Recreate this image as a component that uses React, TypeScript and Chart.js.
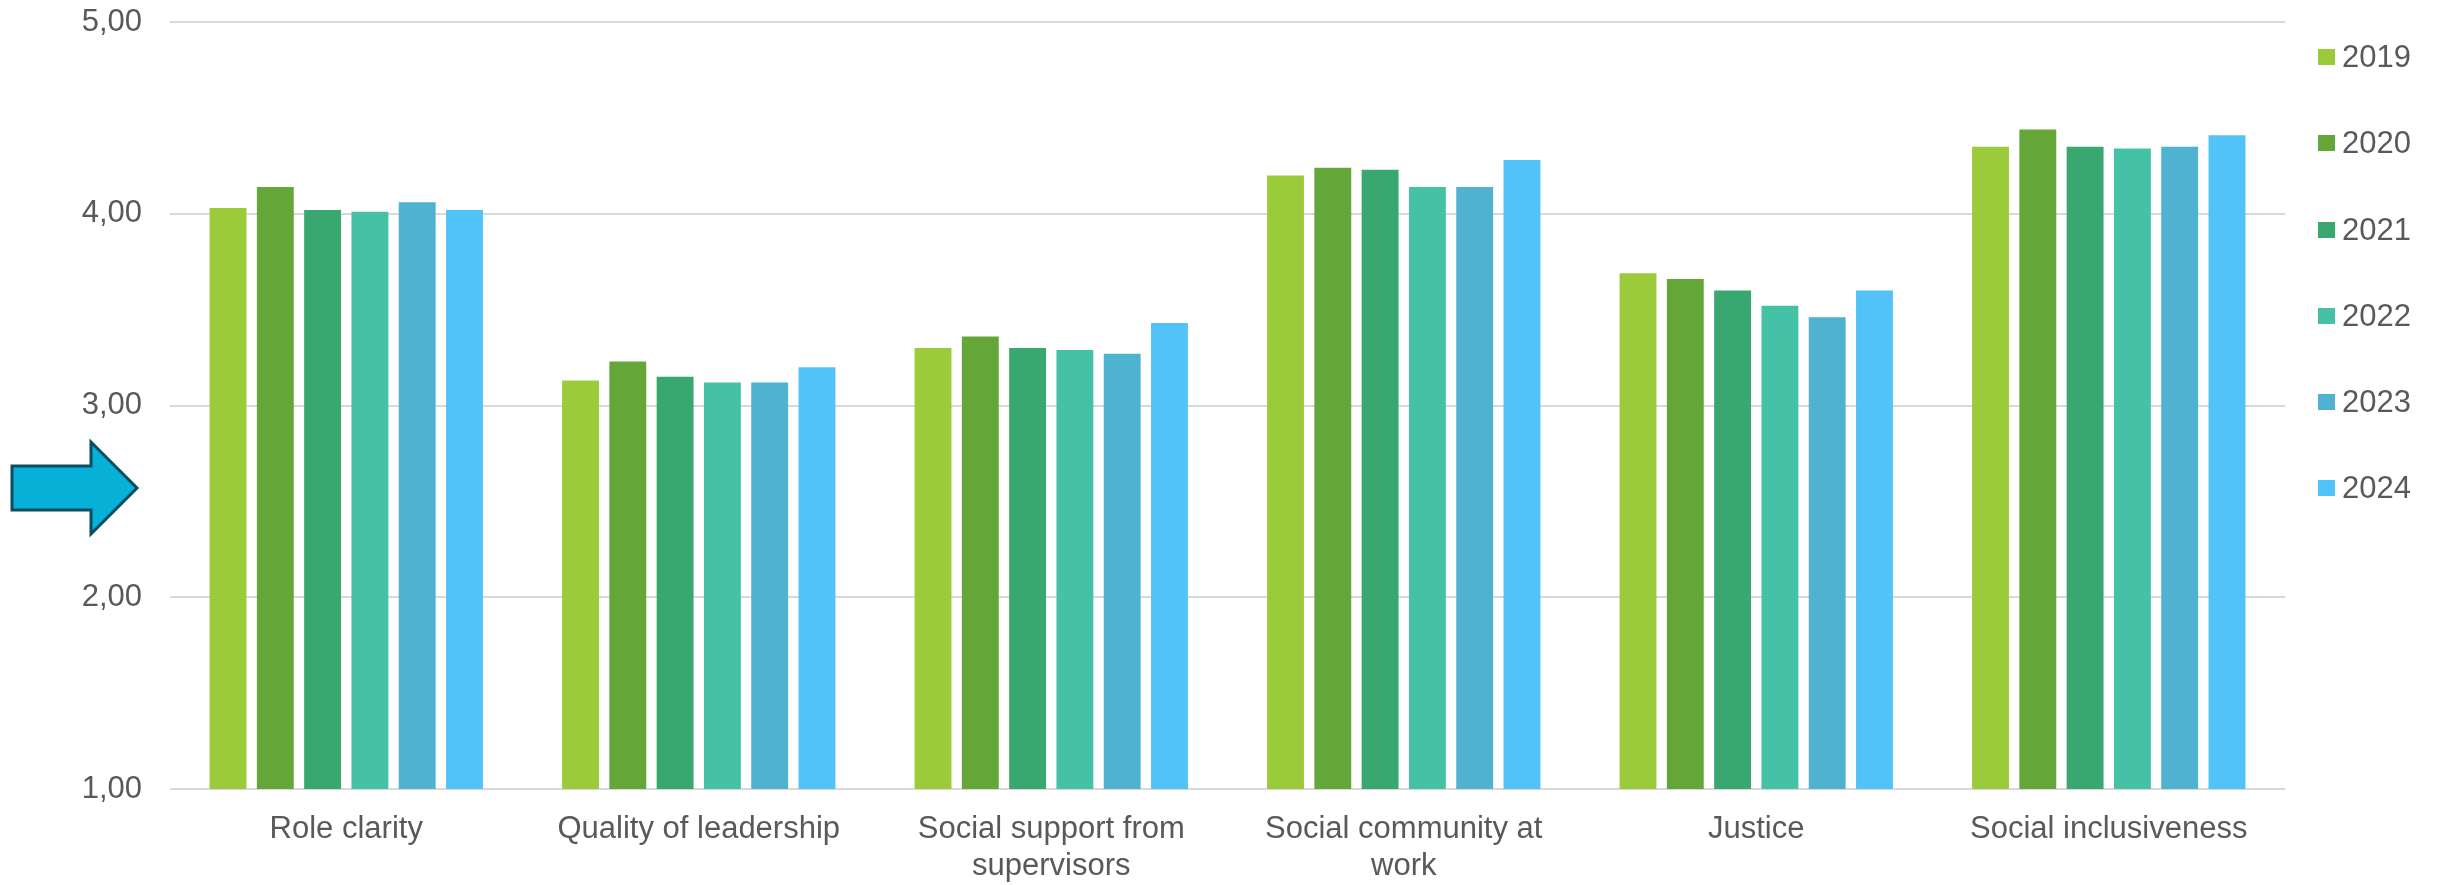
import React, { useEffect, useRef } from "react";
import { Chart, registerables } from "chart.js";

Chart.register(...registerables);

const categories: (string | string[])[] = [
  "Role clarity",
  "Quality of leadership",
  ["Social support from", "supervisors"],
  ["Social community at", "work"],
  "Justice",
  "Social inclusiveness",
];

const years = ["2019", "2020", "2021", "2022", "2023", "2024"];

const values2019 = [4.03, 3.13, 3.3, 4.2, 3.69, 4.35];
const values2020 = [4.14, 3.23, 3.36, 4.24, 3.66, 4.44];
const values2021 = [4.02, 3.15, 3.3, 4.23, 3.6, 4.35];
const values2022 = [4.01, 3.12, 3.29, 4.14, 3.52, 4.34];
const values2023 = [4.06, 3.12, 3.27, 4.14, 3.46, 4.35];
const values2024 = [4.02, 3.2, 3.43, 4.28, 3.6, 4.41];

const seriesValues = [values2019, values2020, values2021, values2022, values2023, values2024];
const colors = ["#9BCB3B", "#65A638", "#38A770", "#45C1A5", "#4EB2D0", "#52C3F8"];

const yTicks = [1, 2, 3, 4, 5];

const TEXT = "#595959";
const FONT = "'Liberation Sans', Arial, sans-serif";

export default function App() {
  const ref = useRef<HTMLCanvasElement | null>(null);

  useEffect(() => {
    document.body.style.margin = "0";
    const canvas = ref.current;
    if (!canvas) return;
    const chart = new Chart(canvas, {
      type: "bar",
      data: {
        labels: categories,
        datasets: years.map((y, i) => ({
          label: y,
          data: seriesValues[i],
          backgroundColor: colors[i],
          borderWidth: 0,
          categoryPercentage: 0.805,
          barPercentage: 0.78,
        })),
      },
      options: {
        responsive: false,
        animation: false,
        layout: { padding: { top: 22, right: 158, bottom: 0, left: 0 } },
        plugins: {
          legend: { display: false },
          tooltip: { enabled: false },
        },
        scales: {
          x: {
            grid: { display: false, drawTicks: false },
            border: { display: false },
            ticks: {
              color: TEXT,
              font: { family: FONT, size: 31 },
              padding: 22,
              maxRotation: 0,
              autoSkip: false,
            },
            afterFit: (s: any) => {
              s.height = 96;
            },
          },
          y: {
            min: 1,
            max: 5,
            afterBuildTicks: (s: any) => {
              s.ticks = yTicks.map((v) => ({ value: v }));
            },
            grid: {
              color: "#d9d9d9",
              lineWidth: 2,
              drawTicks: true,
              tickLength: 28,
              tickColor: "rgba(0,0,0,0)",
            },
            border: { display: false },
            ticks: {
              color: TEXT,
              font: { family: FONT, size: 31 },
              padding: 0,
              callback: (v: any) => Number(v).toFixed(2).replace(".", ","),
            },
            afterFit: (s: any) => {
              s.width = 170;
            },
          },
        },
      },
    });
    return () => chart.destroy();
  }, []);

  const legendCenters = [57, 143, 230, 316, 402, 488];

  return (
    <div style={{ position: "absolute", left: 0, top: 0, width: 2443, height: 885, background: "#fff" }}>
      <canvas ref={ref} width={2443} height={885} style={{ position: "absolute", left: 0, top: 0 }} />
      <svg width={2443} height={885} style={{ position: "absolute", left: 0, top: 0, pointerEvents: "none" }}>
        <polygon
          points="12,466 91,466 91,442 137,488 91,534 91,510 12,510"
          fill="#06B0D6"
          stroke="#0A4D60"
          strokeWidth={3}
          strokeLinejoin="miter"
        />
      </svg>
      {years.map((y, i) => (
        <div
          key={y}
          style={{
            position: "absolute",
            left: 2318,
            top: legendCenters[i] - 19,
            height: 38,
            display: "flex",
            alignItems: "center",
            fontFamily: FONT,
            fontSize: 31,
            color: TEXT,
          }}
        >
          <span style={{ display: "inline-block", width: 17, height: 16, background: colors[i], marginRight: 7 }} />
          <span>{y}</span>
        </div>
      ))}
    </div>
  );
}
